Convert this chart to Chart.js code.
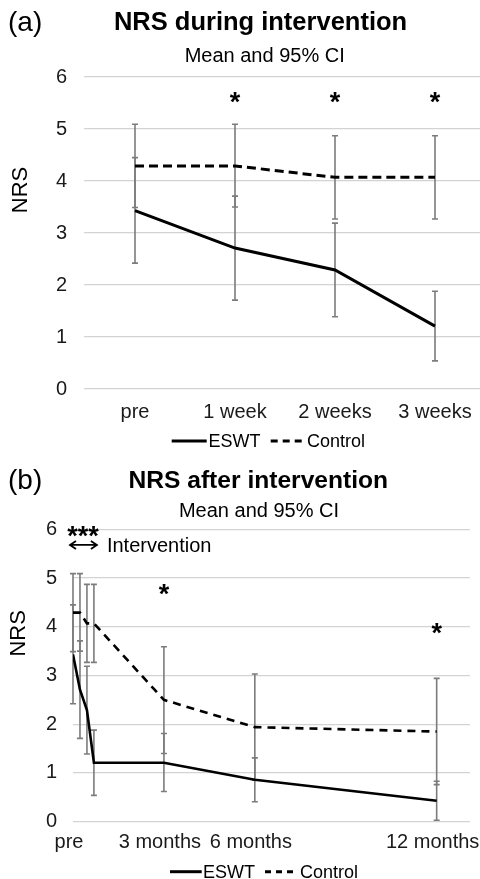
<!DOCTYPE html>
<html><head><meta charset="utf-8">
<script src="https://cdn.jsdelivr.net/npm/chart.js@4.4.1/dist/chart.umd.min.js"></script>
<style>
html,body{margin:0;padding:0;background:#fff;width:480px;height:879px;overflow:hidden}
#wrap{position:relative;width:480px;height:879px}
canvas{position:absolute;left:0}
#cA{top:0}
#cB{top:450px}
</style></head><body>
<div id="wrap">
<canvas id="cA" width="480" height="460"></canvas>
<canvas id="cB" width="480" height="429"></canvas>
</div>
<script>
const FONT = '"Liberation Sans", Arial, Helvetica, sans-serif';

// ---------- (a) NRS during intervention ----------
const duringLabels = ['pre', '1 week', '2 weeks', '3 weeks'];
const duringX = [0, 1, 2, 3];
const eswtDuring   = [3.43, 2.71, 2.29, 1.21];
const eswtDuringLo = [2.42, 1.71, 1.39, 0.54];
const eswtDuringHi = [4.45, 3.71, 3.19, 1.88];
const ctrlDuring   = [4.29, 4.29, 4.07, 4.07];
const ctrlDuringLo = [3.49, 3.50, 3.27, 3.27];
const ctrlDuringHi = [5.09, 5.09, 4.87, 4.87];
const sigDuringText = ['*', '*', '*'];
const sigDuringX = [1, 2, 3];
const sigDuringY = [5.64, 5.64, 5.64];

// ---------- (b) NRS after intervention ----------
const afterMonths  = [0, 0.23, 0.46, 0.69, 3, 6, 12];
const eswtAfter    = [3.43, 2.71, 2.29, 1.21, 1.21, 0.86, 0.43];
const eswtAfterLo  = [2.42, 1.71, 1.39, 0.54, 0.62, 0.41, 0.03];
const eswtAfterHi  = [4.45, 3.71, 3.19, 1.88, 1.81, 1.31, 0.83];
const ctrlAfter    = [4.29, 4.29, 4.07, 4.07, 2.50, 1.94, 1.85];
const ctrlAfterLo  = [3.49, 3.50, 3.27, 3.27, 1.40, 0.85, 0.76];
const ctrlAfterHi  = [5.09, 5.09, 4.87, 4.87, 3.59, 3.03, 2.94];
const afterTickMonths = [0, 3, 6, 12];
const afterTickLabels = ['pre', '3 months', '6 months', '12 months'];
const sigAfterText = ['***', '*', '*'];
const sigAfterX = [0.33, 3, 12];
const sigAfterY = [6.0, 4.8, 4.0];
const interventionSpan = [0, 0.69];

const yTicks = [0, 1, 2, 3, 4, 5, 6];

function pts(xs, ys) { return xs.map((x, i) => ({x: x, y: ys[i]})); }

const errorBarPlugin = {
  id: 'errorBars',
  beforeDatasetsDraw(chart, args, o) {
    const ctx = chart.ctx, xs = chart.scales.x, ys = chart.scales.y;
    ctx.save();
    ctx.strokeStyle = '#7c7c7c';
    ctx.lineWidth = 1.6;
    o.sets.forEach(s => {
      s.x.forEach((xv, i) => {
        const px = xs.getPixelForValue(xv);
        const y1 = ys.getPixelForValue(s.lo[i]);
        const y2 = ys.getPixelForValue(s.hi[i]);
        ctx.beginPath();
        ctx.moveTo(px, y1); ctx.lineTo(px, y2);
        ctx.moveTo(px - 3, y1); ctx.lineTo(px + 3, y1);
        ctx.moveTo(px - 3, y2); ctx.lineTo(px + 3, y2);
        ctx.stroke();
      });
    });
    ctx.restore();
  }
};

const textPlugin = {
  id: 'texts',
  afterDraw(chart, args, o) {
    const ctx = chart.ctx, xs = chart.scales.x, ys = chart.scales.y;
    ctx.save();
    ctx.fillStyle = '#000';
    ctx.textBaseline = 'alphabetic';
    // panel letter
    ctx.font = '28px ' + FONT; ctx.textAlign = 'left';
    ctx.fillText(o.panel, 8, o.panelY);
    // title + subtitle
    ctx.textAlign = 'center';
    ctx.font = 'bold ' + o.titleSize + 'px ' + FONT;
    ctx.fillText(o.title, o.titleX, o.titleY);
    ctx.font = '20px ' + FONT;
    ctx.fillText(o.subtitle, o.subX, o.subY);
    // y axis title
    ctx.save();
    ctx.translate(o.yTitleX, o.yTitleY);
    ctx.rotate(-Math.PI / 2);
    ctx.font = '22px ' + FONT;
    ctx.textAlign = 'center'; ctx.textBaseline = 'middle';
    ctx.fillText('NRS', 0, 0);
    ctx.restore();
    // significance marks
    const ss = 27;
    ctx.font = 'bold ' + ss + 'px ' + FONT;
    ctx.textAlign = 'center';
    o.sigText.forEach((t, i) => {
      const px = xs.getPixelForValue(o.sigX[i]);
      const py = ys.getPixelForValue(o.sigY[i]);
      ctx.fillText(t, px, py + 0.57 * ss);
    });
    // intervention arrow
    if (o.span) {
      const x1 = xs.getPixelForValue(o.span[0]) - 3;
      const x2 = xs.getPixelForValue(o.span[1]) + 3;
      const y = ys.getPixelForValue(o.spanY);
      ctx.strokeStyle = '#000'; ctx.lineWidth = 1.8;
      ctx.beginPath();
      ctx.moveTo(x1, y); ctx.lineTo(x2, y);
      ctx.moveTo(x1 + 6, y - 4); ctx.lineTo(x1, y); ctx.lineTo(x1 + 6, y + 4);
      ctx.moveTo(x2 - 6, y - 4); ctx.lineTo(x2, y); ctx.lineTo(x2 - 6, y + 4);
      ctx.stroke();
      ctx.font = '20px ' + FONT; ctx.textAlign = 'left';
      ctx.fillText(o.spanText, x2 + 10, y + 0.358 * 20);
    }
    // legend
    const L = o.legend;
    ctx.strokeStyle = '#000';
    ctx.lineWidth = 3;
    ctx.setLineDash([]);
    ctx.beginPath(); ctx.moveTo(L.l1[0], L.cy); ctx.lineTo(L.l1[1], L.cy); ctx.stroke();
    ctx.setLineDash(L.dash);
    ctx.beginPath(); ctx.moveTo(L.l2[0], L.cy); ctx.lineTo(L.l2[1], L.cy); ctx.stroke();
    ctx.setLineDash([]);
    ctx.font = '18px ' + FONT; ctx.textAlign = 'left';
    ctx.fillText(L.t1, L.tx1, L.cy + 0.358 * 18);
    ctx.fillText(L.t2, L.tx2, L.cy + 0.358 * 18);
    ctx.restore();
  }
};

function yScale(width, pad) {
  return {
    min: 0, max: 6,
    afterBuildTicks: s => { s.ticks = yTicks.map(v => ({value: v})); },
    afterFit: s => { s.width = width; },
    grid: {color: '#d3d3d3', lineWidth: 1.3, drawTicks: false},
    border: {display: false},
    ticks: {padding: pad, color: '#1a1a1a', font: {family: FONT, size: 20}}
  };
}

function xFit(h) {
  return s => { s.height = h; s.paddingLeft = 0; s.paddingRight = 0; };
}

// ---------- chart (a) ----------
new Chart(document.getElementById('cA'), {
  type: 'line',
  data: {
    datasets: [
      {label: 'ESWT', data: pts(duringX, eswtDuring), borderColor: '#000', borderWidth: 3, pointRadius: 0, tension: 0},
      {label: 'Control', data: pts(duringX, ctrlDuring), borderColor: '#000', borderWidth: 3, borderDash: [9, 5], pointRadius: 0, tension: 0}
    ]
  },
  options: {
    responsive: false, animation: false, devicePixelRatio: 1,
    layout: {padding: {top: 77, left: 0, right: 0, bottom: 0}},
    plugins: {
      legend: {display: false}, title: {display: false}, tooltip: {enabled: false},
      errorBars: {sets: [
        {x: duringX, lo: eswtDuringLo, hi: eswtDuringHi},
        {x: duringX, lo: ctrlDuringLo, hi: ctrlDuringHi}
      ]},
      texts: {
        panel: '(a)', panelY: 31,
        title: 'NRS during intervention', titleSize: 25.5, titleX: 260.5, titleY: 30,
        subtitle: 'Mean and 95% CI', subX: 264.7, subY: 62,
        yTitleX: 20.5, yTitleY: 190,
        sigText: sigDuringText, sigX: sigDuringX, sigY: sigDuringY,
        legend: {cy: 441, l1: [171.7, 206.7], l2: [270.7, 301.7], dash: [7, 5], t1: 'ESWT', t2: 'Control', tx1: 208.5, tx2: 307}
      }
    },
    scales: {
      x: {
        type: 'linear', min: -0.51, max: 3.45,
        afterBuildTicks: s => { s.ticks = duringX.map(v => ({value: v})); },
        afterFit: xFit(460 - 389),
        grid: {display: false, drawTicks: false}, border: {display: false},
        ticks: {padding: 11, color: '#1a1a1a', font: {family: FONT, size: 20}, maxRotation: 0, autoSkip: false,
                callback: v => duringLabels[duringX.indexOf(v)]}
      },
      y: yScale(84, 17)
    }
  },
  plugins: [errorBarPlugin, textPlugin]
});

// ---------- chart (b) ----------
new Chart(document.getElementById('cB'), {
  type: 'line',
  data: {
    datasets: [
      {label: 'ESWT', data: pts(afterMonths, eswtAfter), borderColor: '#000', borderWidth: 2.6, pointRadius: 0, tension: 0},
      {label: 'Control', data: pts(afterMonths, ctrlAfter), borderColor: '#000', borderWidth: 2.6, borderDash: [8, 6], pointRadius: 0, tension: 0}
    ]
  },
  options: {
    responsive: false, animation: false, devicePixelRatio: 1,
    layout: {padding: {top: 79.3, left: 0, right: 10, bottom: 0}},
    plugins: {
      legend: {display: false}, title: {display: false}, tooltip: {enabled: false},
      errorBars: {sets: [
        {x: afterMonths, lo: eswtAfterLo, hi: eswtAfterHi},
        {x: afterMonths, lo: ctrlAfterLo, hi: ctrlAfterHi}
      ]},
      texts: {
        panel: '(b)', panelY: 39,
        title: 'NRS after intervention', titleSize: 24.6, titleX: 258.3, titleY: 37.7,
        subtitle: 'Mean and 95% CI', subX: 259, subY: 66.7,
        yTitleX: 19, yTitleY: 183.3,
        sigText: sigAfterText, sigX: sigAfterX, sigY: sigAfterY,
        span: interventionSpan, spanY: 5.68, spanText: 'Intervention',
        legend: {cy: 421.7, l1: [170, 201.7], l2: [265, 293.3], dash: [6, 5], t1: 'ESWT', t2: 'Control', tx1: 203, tx2: 300}
      }
    },
    scales: {
      x: {
        type: 'linear', min: 0, max: 13.1,
        afterBuildTicks: s => { s.ticks = afterTickMonths.map(v => ({value: v})); },
        afterFit: xFit(429 - 371.7),
        grid: {display: false, drawTicks: false}, border: {display: false},
        ticks: {padding: 8.6, labelOffset: -4, color: '#1a1a1a', font: {family: FONT, size: 20}, maxRotation: 0, autoSkip: false,
                callback: v => afterTickLabels[afterTickMonths.indexOf(v)]}
      },
      y: yScale(73, 16)
    }
  },
  plugins: [errorBarPlugin, textPlugin]
});
</script>
</body></html>
